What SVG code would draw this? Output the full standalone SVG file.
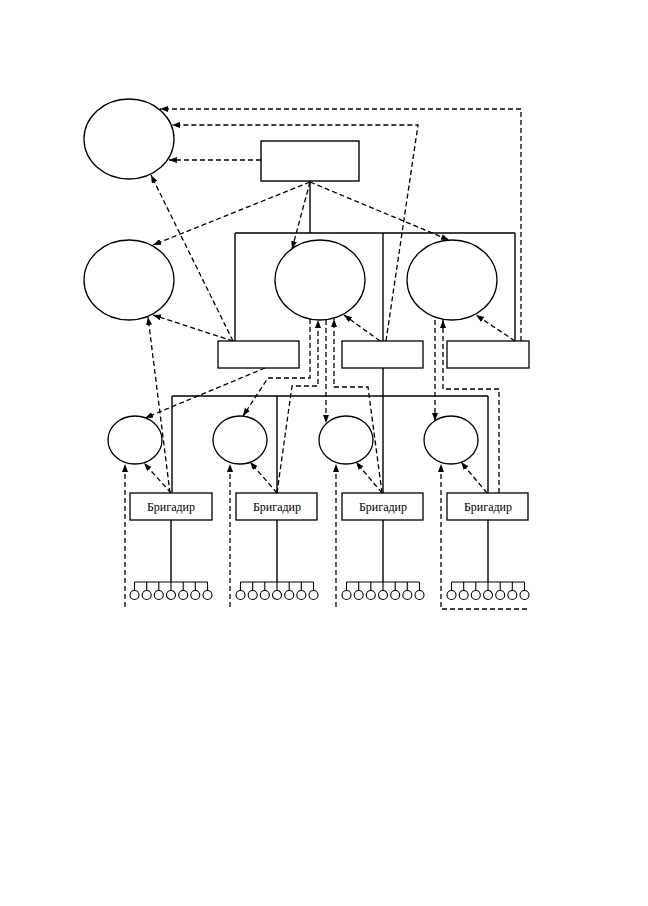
<svg xmlns="http://www.w3.org/2000/svg" width="648" height="906" viewBox="0 0 648 906">
<style>
.n{fill:none;stroke:#000;stroke-width:1.3}
.s{fill:none;stroke:#000;stroke-width:1.4}
.d{fill:none;stroke:#000;stroke-width:1.3;stroke-dasharray:5 3}
.da{fill:none;stroke:#000;stroke-width:1.3;stroke-dasharray:5 3;marker-end:url(#ah)}
.w{fill:none;stroke:#000;stroke-width:1.1}
.t{font-family:"Liberation Serif","Times New Roman",serif;font-size:12px;text-anchor:middle;fill:#000}
</style>
<defs>
<marker id="ah" markerUnits="userSpaceOnUse" markerWidth="9" markerHeight="7" refX="8" refY="3" orient="auto">
<path d="M0,0 L8,3 L0,6 z" fill="#000"/>
</marker>
<g id="workers">
<path class="w" d="M-36.5,582 H36.5 M-36.5,582 V590.5 M-24.3,582 V590.5 M-12.2,582 V590.5 M0,582 V590.5 M12.2,582 V590.5 M24.3,582 V590.5 M36.5,582 V590.5"/>
<circle class="w" cx="-36.5" cy="595" r="4.5"/>
<circle class="w" cx="-24.3" cy="595" r="4.5"/>
<circle class="w" cx="-12.2" cy="595" r="4.5"/>
<circle class="w" cx="0" cy="595" r="4.5"/>
<circle class="w" cx="12.2" cy="595" r="4.5"/>
<circle class="w" cx="24.3" cy="595" r="4.5"/>
<circle class="w" cx="36.5" cy="595" r="4.5"/>
</g>
</defs>
<rect width="648" height="906" fill="#fff"/>

<g id="connectors">
<path class="s" d="M310,181 V233 M235,233 H515 M235,233 V341 M383,233 V341 M515,233 V341 M383,368 V493 M172,396 H488 M172,396 V493 M277,396 V493 M488,396 V493"/>
<path class="s" d="M171,520 V582 M277,520 V582 M383,520 V582"/>
<path class="s" d="M488,520 V582" stroke-width="2"/>
<path class="da" d="M521,341 V109 H160"/>
<path class="da" d="M386,341 L418,125 H172"/>
<path class="da" d="M261,160 H169"/>
<path class="da" d="M233,341 L151,175"/>
<path class="da" d="M310,182 L153,245"/>
<path class="da" d="M310,182 L292,249"/>
<path class="da" d="M310,182 L449,240"/>
<path class="da" d="M233,341 L153,315"/>
<path class="da" d="M380,341 L344,315"/>
<path class="da" d="M515,341 L476,315"/>
<path class="da" d="M265,368 L145,418"/>
<path class="da" d="M310,319 V378 H268 L243,416"/>
<path class="da" d="M277,493 L292,386 H318 V320"/>
<path class="da" d="M326,320 V423"/>
<path class="da" d="M382,493 L368,387 H334 V319"/>
<path class="da" d="M435,320 V421"/>
<path class="da" d="M499,493 V389 H443 V320"/>
<path class="da" d="M170,493 L148,317"/>
<path class="da" d="M171,493 L144,463"/>
<path class="da" d="M277,493 L250,462"/>
<path class="da" d="M382,493 L356,462"/>
<path class="da" d="M487,493 L461,462"/>
<path class="da" d="M125,607 V464"/>
<path class="da" d="M230,607 V464"/>
<path class="da" d="M336,607 V464"/>
<path class="da" d="M527,609 H441 V464"/>
</g>

<g id="E0"><ellipse class="n" cx="129" cy="139" rx="45" ry="40"/></g>
<g id="R0"><rect class="s" x="261" y="141" width="98" height="40"/></g>
<g id="E1"><ellipse class="n" cx="129" cy="280" rx="45" ry="40"/></g>
<g id="E2"><ellipse class="n" cx="320" cy="280" rx="45" ry="40"/></g>
<g id="E3"><ellipse class="n" cx="452" cy="280" rx="45" ry="40"/></g>
<g id="R1"><rect class="n" x="218" y="341" width="81" height="27"/></g>
<g id="R2"><rect class="n" x="342" y="341" width="81" height="27"/></g>
<g id="R3"><rect class="n" x="447" y="341" width="82" height="27"/></g>
<g id="S1"><ellipse class="n" cx="135" cy="440" rx="27" ry="24"/></g>
<g id="S2"><ellipse class="n" cx="240" cy="440" rx="27" ry="24"/></g>
<g id="S3"><ellipse class="n" cx="346" cy="440" rx="27" ry="24"/></g>
<g id="S4"><ellipse class="n" cx="451" cy="440" rx="27" ry="24"/></g>
<g id="B1"><rect class="n" x="130" y="493" width="82" height="27"/><text class="t" x="171" y="511">Бригадир</text></g>
<g id="B2"><rect class="n" x="236" y="493" width="81" height="27"/><text class="t" x="277" y="511">Бригадир</text></g>
<g id="B3"><rect class="n" x="342" y="493" width="81" height="27"/><text class="t" x="383" y="511">Бригадир</text></g>
<g id="B4"><rect class="n" x="447" y="493" width="81" height="27"/><text class="t" x="488" y="511">Бригадир</text></g>
<g id="W1"><use href="#workers" x="171"/></g>
<g id="W2"><use href="#workers" x="277"/></g>
<g id="W3"><use href="#workers" x="383"/></g>
<g id="W4"><use href="#workers" x="488"/></g>
</svg>
